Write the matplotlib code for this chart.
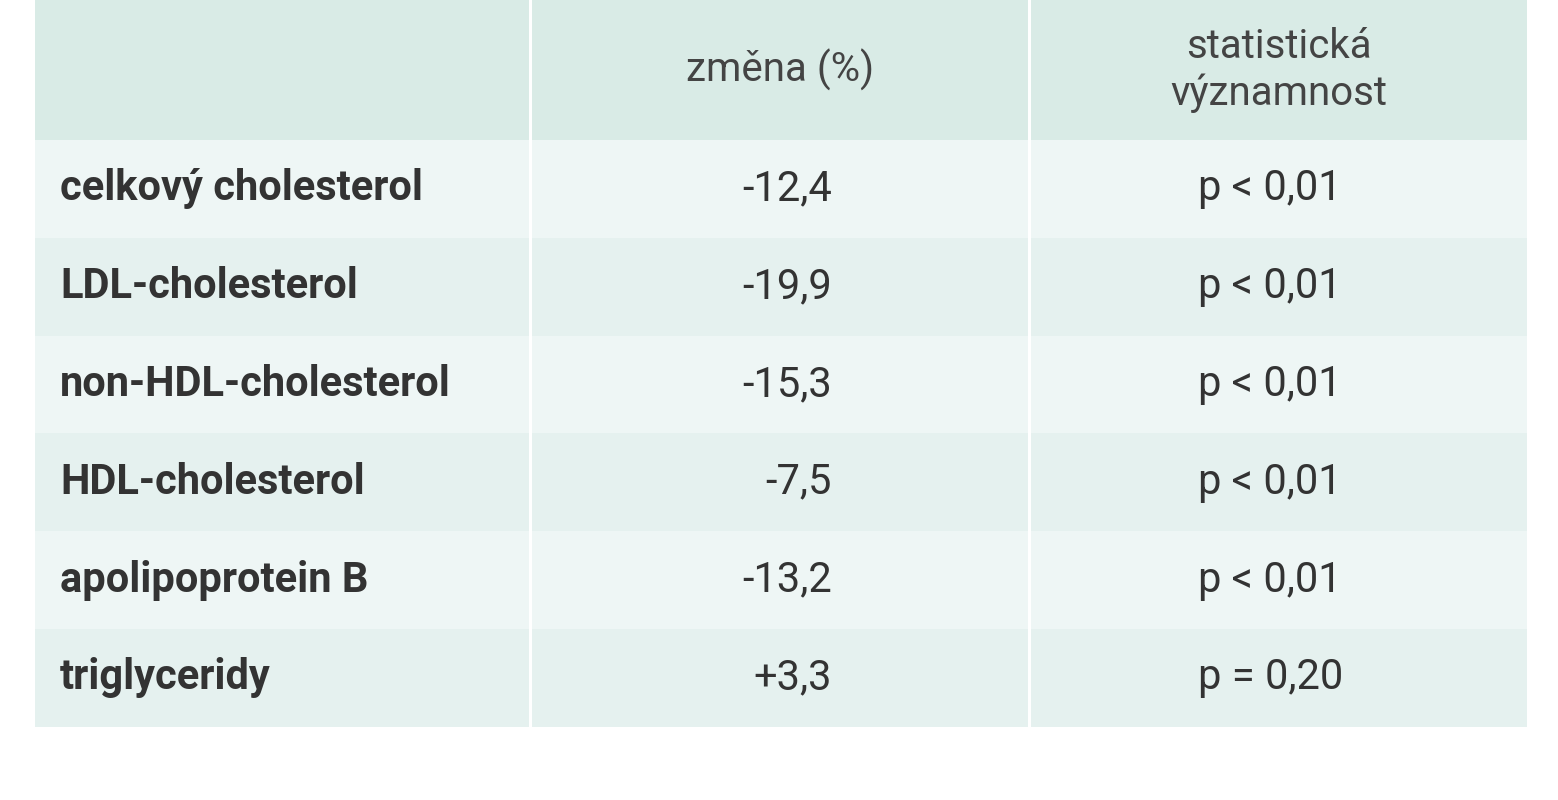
import matplotlib.pyplot as plt
from matplotlib.patches import Rectangle

plt.rcParams['font.family'] = ['Liberation Sans Narrow', 'Roboto', 'DejaVu Sans']

parametry = ["celkový cholesterol", "LDL-cholesterol", "non-HDL-cholesterol",
             "HDL-cholesterol", "apolipoprotein B", "triglyceridy"]
zmena = ["-12,4", "-19,9", "-15,3", "-7,5", "-13,2", "+3,3"]
vyznamnost = ["p < 0,01", "p < 0,01", "p < 0,01", "p < 0,01", "p < 0,01", "p = 0,20"]
hlavicka = ["", "změna (%)", "statistická\nvýznamnost"]

fig = plt.figure(figsize=(15.58, 8), dpi=100)
ax = fig.add_axes([0, 0, 1, 1])
ax.set_xlim(0, 1558)
ax.set_ylim(800, 0)
ax.axis('off')

cols = [(35, 529), (532, 1028), (1031, 1527)]
top, head_h, row_h = 0, 140, 97.8
txt = '#333333'

# hlavička
for (x0, x1), h in zip(cols, hlavicka):
    ax.add_patch(Rectangle((x0, top), x1 - x0, head_h, color='#d9ebe6', lw=0))
    ax.text((x0 + x1) / 2, 70, h, ha='center', va='center', fontsize=29,
            color='#444444', linespacing=1.25)

for i, (p, z, v) in enumerate(zip(parametry, zmena, vyznamnost)):
    y0 = head_h + i * row_h
    c = '#eef6f5' if i % 2 == 0 else '#e5f1ef'
    for x0, x1 in cols:
        ax.add_patch(Rectangle((x0, y0), x1 - x0, row_h, color=c, lw=0))
    yc = y0 + row_h / 2
    ax.text(60, yc, p, ha='left', va='center', fontsize=30, color=txt, fontweight='bold')
    ax.text(832, yc, z, ha='right', va='center', fontsize=30, color=txt)
    ax.text(1198, yc, v, ha='left', va='center', fontsize=30, color=txt)

fig.savefig('out.png', dpi=100)
